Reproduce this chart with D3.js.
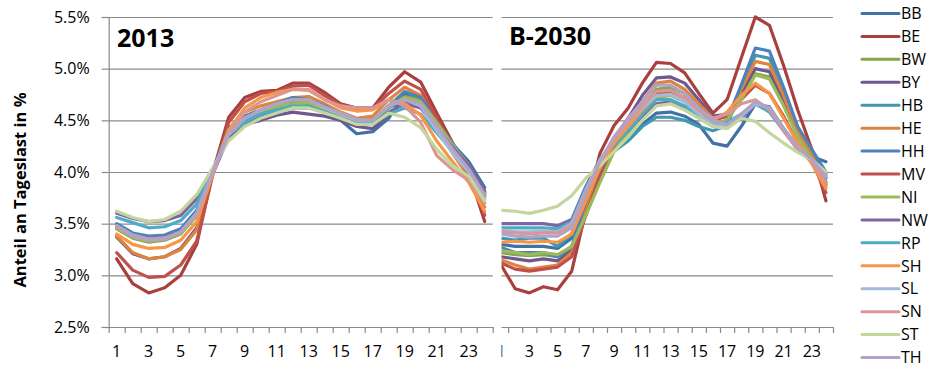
<!DOCTYPE html>
<html><head><meta charset="utf-8">
<script src="https://cdn.jsdelivr.net/npm/d3@7"></script>
<style>
body{margin:0;background:#fff;}
svg{display:block;font-family:"Open Sans",sans-serif;}
</style></head><body>
<svg id="c" width="936" height="370"></svg>
<script>
const hours = [1,2,3,4,5,6,7,8,9,10,11,12,13,14,15,16,17,18,19,20,21,22,23,24];
const xTickLabels = [1,3,5,7,9,11,13,15,17,19,21,23];
const yTicks = [2.5,3.0,3.5,4.0,4.5,5.0,5.5];
const states = ["BB","BE","BW","BY","HB","HE","HH","MV","NI","NW","RP","SH","SL","SN","ST","TH"];
const colors = ["#4271a6","#a9403d","#87a54b","#6f5790","#3f98af","#dd853d","#4f81bd","#c0504d","#9bbb59","#8064a2","#4bacc6","#f79646","#a3b9d9","#d99694","#c3d69b","#b3a2c7"];
const panelTitles = ["2013","B-2030"];
const yTitle = "Anteil an Tageslast in %";

// 2013 (values in %)
const BB_2013 = [3.46,3.40,3.36,3.37,3.43,3.62,4.00,4.38,4.50,4.56,4.61,4.65,4.66,4.62,4.50,4.37,4.39,4.52,4.76,4.68,4.47,4.27,4.10,3.85];
const BE_2013 = [3.16,2.92,2.83,2.88,3.00,3.30,3.99,4.53,4.72,4.78,4.79,4.86,4.86,4.77,4.66,4.62,4.62,4.82,4.97,4.87,4.57,4.28,4.00,3.52];
const BW_2013 = [3.45,3.36,3.32,3.34,3.40,3.58,4.00,4.40,4.54,4.60,4.64,4.68,4.68,4.62,4.55,4.51,4.51,4.64,4.73,4.70,4.50,4.27,4.06,3.80];
const BY_2013 = [3.37,3.21,3.16,3.18,3.26,3.46,3.98,4.34,4.46,4.50,4.55,4.58,4.56,4.54,4.50,4.44,4.42,4.56,4.68,4.64,4.43,4.22,4.03,3.78];
const HB_2013 = [3.48,3.40,3.37,3.38,3.44,3.62,4.01,4.40,4.50,4.56,4.62,4.66,4.65,4.60,4.54,4.49,4.50,4.62,4.70,4.66,4.46,4.25,4.05,3.78];
const HE_2013 = [3.38,3.22,3.16,3.18,3.25,3.44,3.98,4.42,4.58,4.64,4.68,4.72,4.73,4.66,4.58,4.52,4.54,4.70,4.82,4.74,4.46,4.18,3.95,3.66];
const HH_2013 = [3.50,3.41,3.38,3.39,3.45,3.63,4.01,4.42,4.54,4.60,4.66,4.72,4.70,4.64,4.56,4.48,4.48,4.64,4.78,4.72,4.50,4.27,4.06,3.80];
const MV_2013 = [3.22,3.05,2.98,2.99,3.10,3.33,3.97,4.48,4.68,4.76,4.78,4.83,4.84,4.74,4.65,4.60,4.61,4.76,4.88,4.80,4.52,4.24,3.98,3.58];
const NI_2013 = [3.46,3.37,3.33,3.35,3.41,3.59,4.00,4.41,4.52,4.59,4.63,4.66,4.67,4.61,4.55,4.50,4.50,4.63,4.72,4.68,4.48,4.26,4.06,3.80];
const NW_2013 = [3.60,3.55,3.52,3.53,3.58,3.74,4.03,4.36,4.48,4.54,4.58,4.62,4.62,4.58,4.52,4.47,4.46,4.58,4.66,4.62,4.43,4.24,4.06,3.82];
const RP_2013 = [3.56,3.51,3.46,3.47,3.53,3.69,4.02,4.36,4.48,4.56,4.60,4.64,4.63,4.58,4.52,4.47,4.47,4.56,4.62,4.56,4.38,4.20,4.02,3.76];
const SH_2013 = [3.40,3.30,3.26,3.27,3.34,3.52,3.97,4.40,4.62,4.72,4.77,4.80,4.79,4.70,4.62,4.59,4.60,4.70,4.66,4.55,4.30,4.10,3.90,3.62];
const SL_2013 = [3.48,3.39,3.35,3.36,3.42,3.60,4.00,4.38,4.52,4.60,4.66,4.70,4.70,4.62,4.56,4.50,4.50,4.64,4.70,4.64,4.40,4.18,4.00,3.74];
const SN_2013 = [3.47,3.38,3.35,3.36,3.42,3.60,3.99,4.38,4.58,4.68,4.74,4.80,4.80,4.70,4.64,4.62,4.62,4.70,4.64,4.48,4.16,4.02,3.92,3.70];
const ST_2013 = [3.62,3.56,3.52,3.54,3.62,3.78,4.04,4.30,4.44,4.52,4.57,4.62,4.62,4.57,4.52,4.46,4.46,4.57,4.53,4.43,4.22,4.06,3.96,3.72];
const TH_2013 = [3.48,3.38,3.34,3.35,3.42,3.60,4.00,4.36,4.52,4.60,4.66,4.70,4.70,4.63,4.57,4.51,4.50,4.65,4.70,4.66,4.44,4.22,4.03,3.78];

// B-2030 (values in %)
const BB_2030 = [3.30,3.28,3.28,3.28,3.26,3.36,3.74,4.06,4.22,4.32,4.46,4.57,4.58,4.54,4.46,4.28,4.25,4.44,4.66,4.63,4.42,4.22,4.15,4.10];
const BE_2030 = [3.10,2.87,2.83,2.89,2.86,3.04,3.62,4.18,4.45,4.62,4.86,5.06,5.05,4.96,4.76,4.57,4.70,5.10,5.50,5.42,5.03,4.60,4.22,3.72];
const BW_2030 = [3.22,3.20,3.19,3.20,3.18,3.26,3.58,3.92,4.22,4.42,4.62,4.80,4.82,4.76,4.64,4.50,4.54,4.74,4.95,4.92,4.66,4.36,4.14,3.88];
const BY_2030 = [3.18,3.16,3.14,3.16,3.14,3.24,3.66,4.04,4.32,4.52,4.74,4.91,4.92,4.86,4.70,4.54,4.56,4.76,5.00,4.97,4.70,4.38,4.16,3.90];
const HB_2030 = [3.36,3.34,3.36,3.36,3.28,3.40,3.78,4.04,4.20,4.30,4.44,4.53,4.53,4.50,4.44,4.40,4.45,4.80,5.13,5.10,4.78,4.42,4.18,3.94];
const HE_2030 = [3.15,3.10,3.06,3.08,3.10,3.22,3.62,4.00,4.28,4.48,4.68,4.86,4.88,4.80,4.66,4.52,4.54,4.80,5.07,5.04,4.74,4.40,4.16,3.88];
const HH_2030 = [3.27,3.22,3.22,3.22,3.18,3.28,3.72,4.02,4.24,4.38,4.56,4.74,4.76,4.72,4.62,4.46,4.50,4.84,5.20,5.17,4.82,4.44,4.22,4.00];
const MV_2030 = [3.12,3.06,3.04,3.06,3.08,3.18,3.58,3.96,4.24,4.42,4.60,4.76,4.77,4.72,4.60,4.50,4.54,4.70,4.84,4.76,4.54,4.28,4.10,3.80];
const NI_2030 = [3.24,3.22,3.20,3.22,3.20,3.28,3.58,3.90,4.20,4.38,4.56,4.72,4.74,4.68,4.56,4.46,4.50,4.70,4.94,4.90,4.64,4.34,4.12,3.86];
const NW_2030 = [3.50,3.50,3.50,3.50,3.48,3.54,3.86,4.12,4.28,4.40,4.54,4.66,4.68,4.62,4.54,4.46,4.44,4.52,4.66,4.62,4.42,4.24,4.12,3.98];
const RP_2030 = [3.46,3.46,3.46,3.46,3.45,3.52,3.84,4.10,4.26,4.40,4.56,4.70,4.70,4.64,4.54,4.44,4.48,4.56,4.66,4.58,4.40,4.22,4.10,3.94];
const SH_2030 = [3.32,3.33,3.32,3.33,3.32,3.40,3.72,4.04,4.28,4.44,4.60,4.74,4.75,4.70,4.60,4.50,4.58,4.74,4.86,4.76,4.52,4.28,4.08,3.84];
const SL_2030 = [3.44,3.42,3.42,3.43,3.42,3.50,3.82,4.12,4.32,4.48,4.62,4.74,4.75,4.68,4.56,4.46,4.44,4.54,4.66,4.62,4.42,4.24,4.12,3.96];
const SN_2030 = [3.42,3.41,3.40,3.41,3.41,3.48,3.80,4.10,4.32,4.48,4.64,4.78,4.79,4.72,4.60,4.52,4.56,4.66,4.70,4.60,4.40,4.22,4.10,3.90];
const ST_2030 = [3.63,3.62,3.60,3.63,3.67,3.77,3.94,4.06,4.20,4.34,4.50,4.64,4.66,4.60,4.52,4.44,4.42,4.52,4.49,4.38,4.28,4.19,4.12,4.00];
const TH_2030 = [3.40,3.38,3.37,3.38,3.38,3.46,3.80,4.10,4.34,4.52,4.68,4.84,4.84,4.76,4.62,4.50,4.46,4.56,4.68,4.62,4.42,4.24,4.12,3.96];

const series2013 = [BB_2013,BE_2013,BW_2013,BY_2013,HB_2013,HE_2013,HH_2013,MV_2013,NI_2013,NW_2013,RP_2013,SH_2013,SL_2013,SN_2013,ST_2013,TH_2013];
const series2030 = [BB_2030,BE_2030,BW_2030,BY_2030,HB_2030,HE_2030,HH_2030,MV_2030,NI_2030,NW_2030,RP_2030,SH_2030,SL_2030,SN_2030,ST_2030,TH_2030];

const svg = d3.select("#c");
const GRID = "#898989";
const y = d3.scaleLinear().domain([2.5,5.5]).range([327,17]);

function drawPanel(g, left, right, data, title, tx, ty){
  const x = d3.scaleBand().domain(hours).range([left,right]);
  const xb = d3.scaleLinear().domain([0,hours.length]).range([left,right]);
  g.append("g").attr("transform",`translate(${left},0)`)
    .call(d3.axisLeft(y).tickValues(yTicks.slice(1)).tickSize(-(right-left)).tickFormat(""))
    .call(s=>s.select(".domain").remove())
    .selectAll("line").attr("stroke",GRID).attr("stroke-width",1.2);
  g.append("g").attr("transform","translate(0,327)")
    .call(d3.axisBottom(xb).tickValues(d3.range(0,hours.length+1)).tickSize(6).tickSizeOuter(0).tickFormat(""))
    .call(s=>{s.select(".domain").attr("stroke",GRID).attr("stroke-width",1.2);
              s.selectAll("line").attr("stroke",GRID).attr("stroke-width",1.2);});
  g.append("g").attr("transform","translate(0,327)")
    .call(d3.axisBottom(x).tickValues(xTickLabels).tickSize(0).tickPadding(19))
    .call(s=>{s.select(".domain").remove();
      s.selectAll("text").attr("font-family","'Open Sans',sans-serif").attr("font-size",16).attr("fill","#000");});
  const line = d3.line().x((d,i)=>x(hours[i])+x.bandwidth()/2).y(d=>y(d));
  g.append("g").selectAll("path").data(data).join("path")
    .attr("d",line).attr("fill","none")
    .attr("stroke",(d,i)=>colors[i]).attr("stroke-width",3.2)
    .attr("stroke-linejoin","round").attr("stroke-linecap","round");
  g.append("text").attr("x",tx).attr("y",ty).text(title)
    .attr("font-size",25).attr("font-weight","bold").attr("fill","#000");
}

// right panel (B-2030), partly covered by the left chart
drawPanel(svg.append("g"), 494, 833, series2030, panelTitles[1], 509, 45);

// left chart area (covers the right chart's left edge)
svg.append("rect").attr("x",0).attr("y",0).attr("width",501.5).attr("height",370).attr("fill","#fff");
const gL = svg.append("g");
drawPanel(gL, 108.7, 492.7, series2013, panelTitles[0], 117, 47);
gL.append("g").attr("transform","translate(108.7,0)")
  .call(d3.axisLeft(y).tickValues(yTicks).tickSize(7).tickPadding(12).tickFormat(d=>d.toFixed(1)+"%"))
  .call(s=>{s.select(".domain").attr("stroke",GRID).attr("stroke-width",1.2);
    s.selectAll("line").attr("stroke",GRID).attr("stroke-width",1.2);
    s.selectAll("text").attr("font-family","'Open Sans',sans-serif").attr("font-size",16).attr("fill","#000");});
gL.append("text").attr("transform","translate(26,190) rotate(-90)")
  .attr("text-anchor","middle").attr("font-size",16.5).attr("font-weight","bold").text(yTitle);

// legend
const ly = d3.scalePoint().domain(states).range([13.5,357.5]);
const lg = svg.append("g").selectAll("g").data(states).join("g")
  .attr("transform",d=>`translate(0,${ly(d)})`);
lg.append("line").attr("x1",862).attr("x2",899).attr("stroke",(d,i)=>colors[i]).attr("stroke-width",3).attr("stroke-linecap","round");
lg.append("text").attr("x",901).attr("dy","0.36em").attr("font-size",16).attr("fill","#000").text(d=>d);
</script>
</body></html>
